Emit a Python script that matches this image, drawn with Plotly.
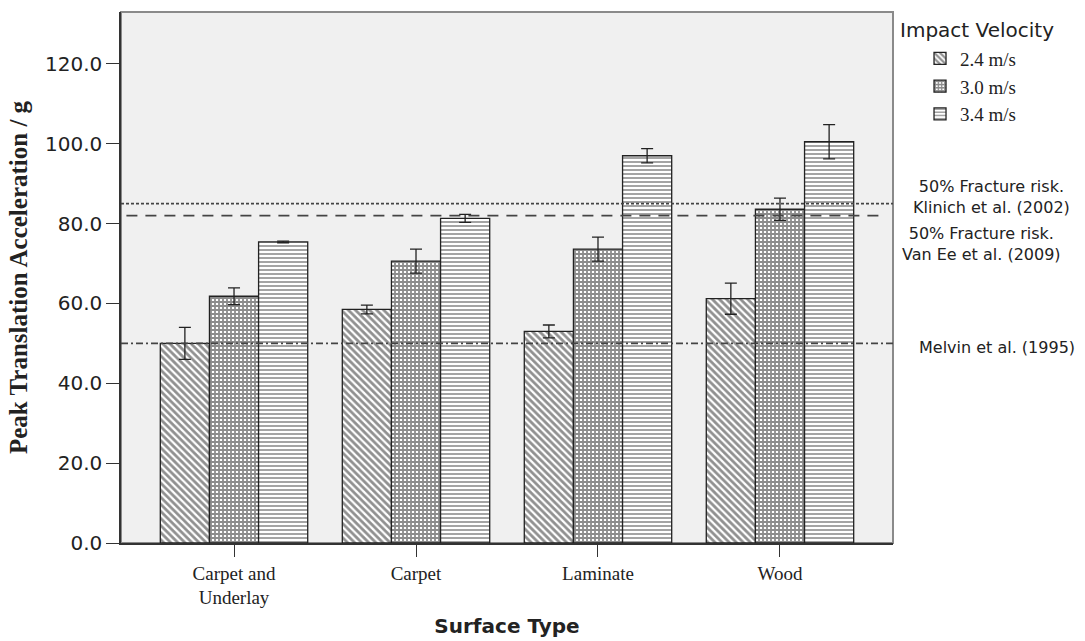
import plotly.graph_objects as go

categories = ["Carpet and<br>Underlay", "Carpet", "Laminate", "Wood"]
series_names = ["2.4 m/s", "3.0 m/s", "3.4 m/s"]
v24 = [50.0, 58.5, 53.0, 61.2]
e24 = [4.0, 1.1, 1.6, 3.9]
v30 = [61.8, 70.6, 73.6, 83.6]
e30 = [2.1, 3.0, 3.0, 2.8]
v34 = [75.4, 81.3, 97.0, 100.5]
e34 = [0.2, 1.0, 1.8, 4.3]
ref_values = [85.0, 82.0, 50.0]
ref_labels = ["50% Fracture risk.<br>Klinich et al. (2002)",
              "50% Fracture risk.<br>Van Ee et al. (2009)",
              "Melvin et al. (1995)"]
y_ticks = [0, 20, 40, 60, 80, 100, 120]

patterns = [dict(shape="\\", size=5, solidity=0.55, fgcolor="#222", bgcolor="white"),
            dict(shape="+", size=4, solidity=0.7, fgcolor="#1a1a1a", bgcolor="white"),
            dict(shape="-", size=4, solidity=0.5, fgcolor="#4a4a4a", bgcolor="white")]

fig = go.Figure()
for name, vals, errs, pat in zip(series_names, [v24, v30, v34], [e24, e30, e34], patterns):
    fig.add_trace(go.Bar(
        x=categories, y=vals, name=name,
        marker=dict(color="white", line=dict(color="#222", width=1.3), pattern=pat),
        error_y=dict(type="data", array=errs, color="#222", thickness=1.3, width=6),
    ))

dash_styles = ["3px,2px", "11px,8px", "7px,3px,2px,3px"]
x_ends = [(0, 1), (0.007, 0.99), (0, 1)]
for val, ds, (xa, xb) in zip(ref_values, dash_styles, x_ends):
    fig.add_shape(type="line", xref="paper", yref="y", x0=xa, x1=xb, y0=val, y1=val,
                  line=dict(color="#444", width=1.6, dash=ds), layer="above")

fig.add_shape(type="rect", xref="paper", yref="paper", x0=0, x1=1, y0=0, y1=1,
              line=dict(color="#8a8a8a", width=2), layer="below")

label_pos = [(1.128, 86.6), (1.115, 74.8), (1.135, 49.0)]
for txt, (px, py) in zip(ref_labels, label_pos):
    fig.add_annotation(text=txt, xref="paper", yref="y", x=px, y=py, showarrow=False,
                       xanchor="center", yanchor="middle", align="center",
                       font=dict(family="DejaVu Sans", size=16, color="#222"))

fig.add_annotation(text="Impact Velocity", xref="paper", yref="paper", x=1.0065, y=0.966,
                   xanchor="left", yanchor="middle", showarrow=False,
                   font=dict(family="DejaVu Sans", size=20, color="#222"))

fig.update_layout(
    width=1085, height=641,
    margin=dict(l=121, r=192, t=12, b=98, autoexpand=False),
    paper_bgcolor="white", plot_bgcolor="#f0f0f0",
    barmode="group", bargap=0.19, bargroupgap=0,
    showlegend=True,
    legend=dict(x=1.035, y=0.948, xanchor="left", yanchor="top",
                font=dict(family="Liberation Serif", size=19, color="#222"),
                bgcolor="rgba(0,0,0,0)", tracegroupgap=0),
    xaxis=dict(range=[-0.621, 3.621], showline=True, linecolor="#333", linewidth=1.5,
               automargin=False,
               ticks="outside", ticklen=12, tickcolor="#333", tickwidth=1.3,
               tickfont=dict(family="Liberation Serif", size=19, color="#222"),
               title=dict(text="<b>Surface Type</b>", standoff=12,
                          font=dict(family="DejaVu Sans", size=20, color="#222")),
               showgrid=False, zeroline=False),
    yaxis=dict(range=[0, 133], tickvals=y_ticks, tickformat=".1f",
               showline=True, linecolor="#333", linewidth=1.5, automargin=False,
               ticks="outside", ticklen=13, tickcolor="#333", tickwidth=1.3,
               tickfont=dict(family="DejaVu Sans", size=20, color="#222"),
               title=dict(text="<b>Peak Translation Acceleration / g</b>", standoff=10,
                          font=dict(family="Liberation Serif", size=25, color="#222")),
               showgrid=False, zeroline=False),
)

fig.write_html("out.html")
